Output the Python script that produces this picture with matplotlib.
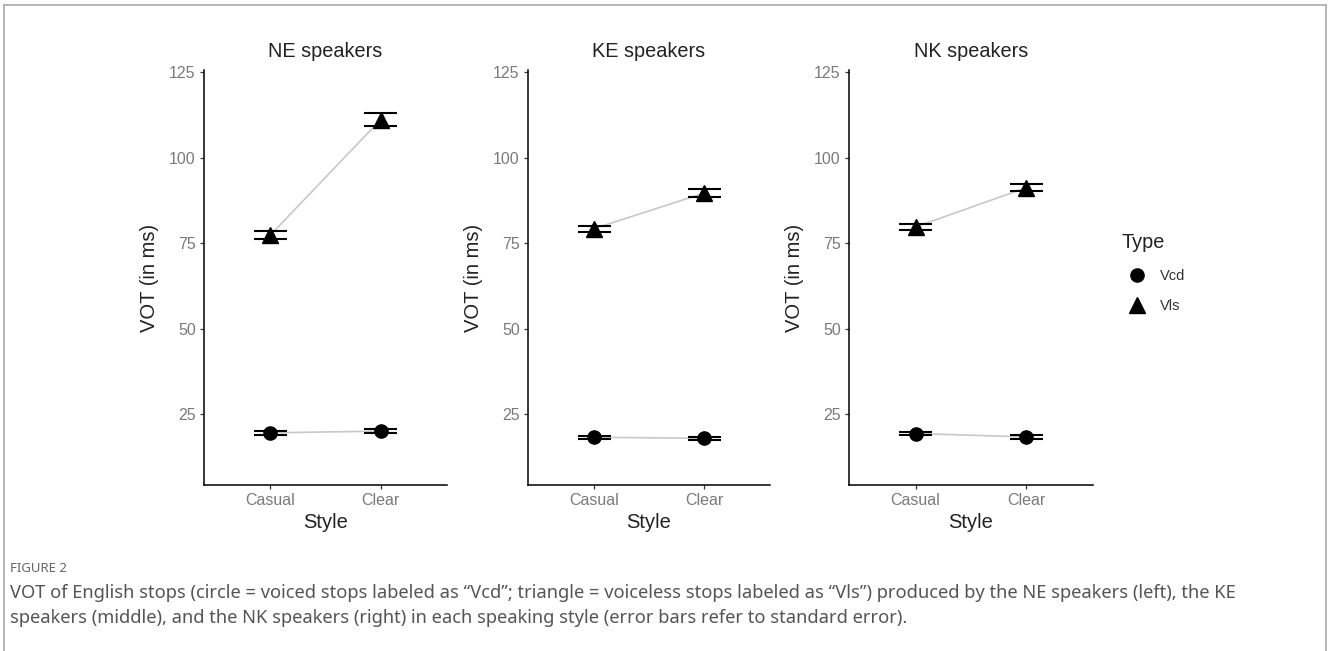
import numpy as np
import matplotlib
matplotlib.use("Agg")
import matplotlib.pyplot as plt
from matplotlib.lines import Line2D

plt.rcParams['font.family'] = ['Liberation Sans', 'DejaVu Sans']

# datos
estilos = ["Casual", "Clear"]
paneles = ["NE speakers", "KE speakers", "NK speakers"]
vcd_media = [[19.5, 20.0], [18.2, 17.9], [19.3, 18.3]]
vcd_se = [[0.6, 0.6], [0.5, 0.5], [0.5, 0.5]]
vls_media = [[77.3, 111.1], [79.2, 89.6], [79.7, 91.2]]
vls_se = [[1.1, 2.0], [0.9, 1.1], [0.9, 1.1]]
yticks = [25, 50, 75, 100, 125]

W, H = 1328, 651
fig = plt.figure(figsize=(W/100, H/100), dpi=100)

# posiciones de los paneles en pixeles (izq, der)
cajas = [(204, 447), (528, 770), (849, 1093)]
arriba, abajo = 70, 485

def errbar(ax, x, m, s):
    m = np.array(m); s = np.array(s)
    ax.vlines(x, m-s, m+s, color="black", lw=1.2, zorder=4)
    ax.hlines(m-s, x-0.15, x+0.15, color="black", lw=1.5, zorder=4)
    ax.hlines(m+s, x-0.15, x+0.15, color="black", lw=1.5, zorder=4)

for i, (l, r) in enumerate(cajas):
    ax = fig.add_axes([l/W, (H-abajo)/H, (r-l)/W, (abajo-arriba)/H])
    x = np.arange(1, len(estilos)+1)
    ax.plot(x, vcd_media[i], color="#c8c8c8", lw=1.2, zorder=1)
    ax.plot(x, vls_media[i], color="#c8c8c8", lw=1.2, zorder=1)
    ax.plot(x, vcd_media[i], "o", color="black", ms=9.5, zorder=3, ls="none")
    ax.plot(x, vls_media[i], "^", color="black", ms=11.5, zorder=3, ls="none")
    errbar(ax, x, vcd_media[i], vcd_se[i])
    errbar(ax, x, vls_media[i], vls_se[i])

    ax.set_xlim(0.4, 2.6)
    ax.set_ylim(4.24, 125.6)
    ax.set_xticks(x)
    ax.set_xticklabels(estilos)
    ax.set_yticks(yticks)
    for s in ["top", "right"]:
        ax.spines[s].set_visible(False)
    for s in ["left", "bottom"]:
        ax.spines[s].set_color("black")
        ax.spines[s].set_linewidth(1.1)
    ax.tick_params(length=3, width=0.9, color="#333333", labelsize=11.5,
                   labelcolor="#7a7a7a", pad=3)
    ax.set_title(paneles[i], fontsize=14.3, color="#222222", pad=9)
    ax.set_xlabel("Style", fontsize=14.5, color="#222222", labelpad=3)
    ax.set_ylabel("VOT (in ms)", fontsize=14.5, color="#222222", labelpad=7)

handles = [Line2D([], [], marker="o", color="black", ls="none", ms=9.5),
           Line2D([], [], marker="^", color="black", ls="none", ms=12)]
leg = fig.legend(handles, ["Vcd", "Vls"], title="Type", frameon=False,
                 loc="upper left", bbox_to_anchor=(1122/W, (H-233)/H),
                 borderpad=0, borderaxespad=0,
                 fontsize=10.5, title_fontsize=14.3, handletextpad=0.6,
                 labelspacing=1.14, alignment="left")
for t in leg.get_texts():
    t.set_color("#333333")
leg.get_title().set_color("#222222")

# marco y leyenda de la figura
fig.add_artist(Line2D([4/W, 4/W], [0, (H-5)/H], color="#aaaaaa", lw=1.2))
fig.add_artist(Line2D([4/W, 1326/W], [(H-5)/H, (H-5)/H], color="#aaaaaa", lw=1.2))
fig.add_artist(Line2D([1326/W, 1326/W], [0, (H-5)/H], color="#aaaaaa", lw=1.2))

fig.text(10/W, (H-569)/H, "FIGURE 2", fontsize=9.5, color="#666666",
         family=["Noto Sans", "DejaVu Sans"], va="center", weight="medium")
fig.text(10/W, (H-593)/H,
         "VOT of English stops (circle = voiced stops labeled as \u201cVcd\u201d; triangle = voiceless stops labeled as \u201cVls\u201d) produced by the NE speakers (left), the KE",
         fontsize=13.2, color="#555555", family=["Noto Sans", "DejaVu Sans"], va="center")
fig.text(10/W, (H-618)/H,
         "speakers (middle), and the NK speakers (right) in each speaking style (error bars refer to standard error).",
         fontsize=13.2, color="#555555", family=["Noto Sans", "DejaVu Sans"], va="center")

fig.savefig("out.png", dpi=100)
